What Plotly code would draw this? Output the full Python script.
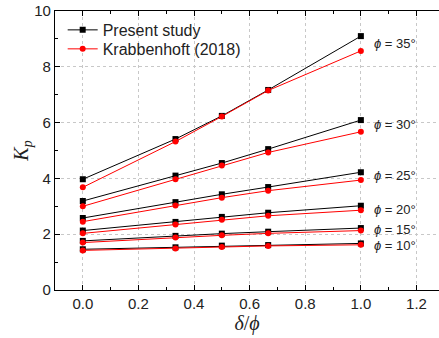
import plotly.graph_objects as go

x_vals = [0.0, 1/3, 0.5, 2/3, 1.0]
phi_labels = ["35", "30", "25", "20", "15", "10"]

present = {
    "35": [3.97, 5.41, 6.24, 7.17, 9.10],
    "30": [3.19, 4.10, 4.55, 5.05, 6.09],
    "25": [2.58, 3.15, 3.43, 3.69, 4.22],
    "20": [2.13, 2.44, 2.62, 2.77, 3.02],
    "15": [1.76, 1.94, 2.02, 2.09, 2.22],
    "10": [1.46, 1.53, 1.59, 1.61, 1.67],
}
krabbenhoft = {
    "35": [3.68, 5.32, 6.22, 7.15, 8.57],
    "30": [3.00, 3.97, 4.46, 4.93, 5.67],
    "25": [2.45, 3.03, 3.31, 3.56, 3.94],
    "20": [2.03, 2.35, 2.52, 2.66, 2.86],
    "15": [1.70, 1.88, 1.96, 2.03, 2.13],
    "10": [1.42, 1.49, 1.54, 1.58, 1.62],
}
label_y = [8.85, 5.95, 4.10, 2.90, 2.18, 1.59]

fig = go.Figure()
for i, p in enumerate(phi_labels):
    fig.add_trace(go.Scatter(
        x=x_vals, y=present[p], mode="lines+markers", name="Present study",
        legendgroup="present", showlegend=(i == 0), legend="legend",
        line=dict(color="black", width=1),
        marker=dict(symbol="square", size=6, color="black")))
for i, p in enumerate(phi_labels):
    fig.add_trace(go.Scatter(
        x=x_vals, y=krabbenhoft[p], mode="lines+markers", name="Krabbenhoft (2018)",
        legendgroup="krab", showlegend=(i == 0), legend="legend2",
        line=dict(color="red", width=1),
        marker=dict(symbol="circle", size=6, color="red")))

for p, ly in zip(phi_labels, label_y):
    fig.add_annotation(x=1.04, y=ly, xanchor="left", yanchor="middle",
                       text=f"<i>ϕ</i> = {p}°", showarrow=False,
                       font=dict(size=13, color="#222", family="Arial, Liberation Sans"))

axis_common = dict(
    showline=True, linecolor="black", linewidth=1.3,
    ticks="inside", ticklen=5, tickcolor="black", tickwidth=1,
    showgrid=True, gridcolor="#c8c8c8", griddash="dot", gridwidth=1,
    zeroline=False,
    tickfont=dict(size=15, color="#222", family="Arial, Liberation Sans"),
)

fig.update_xaxes(
    range=[-0.1, 1.281], tickvals=[0, 0.2, 0.4, 0.6, 0.8, 1.0, 1.2],
    ticktext=["0.0", "0.2", "0.4", "0.6", "0.8", "1.0", "1.2"],
    mirror="ticks",
    minor=dict(ticks="inside", ticklen=3, tickcolor="black", dtick=0.1, tick0=0, showgrid=False),
    title=dict(text="<i>δ</i>/<i>ϕ</i>", standoff=4,
               font=dict(size=20, color="#222", family="Times New Roman, Liberation Serif")),
    **axis_common)
fig.update_yaxes(
    range=[0, 10], tickvals=[0, 2, 4, 6, 8, 10],
    minor=dict(ticks="inside", ticklen=3, tickcolor="black", dtick=1, tick0=0, showgrid=False),
    title=dict(text="<i>K<sub>p</sub></i>", standoff=0,
               font=dict(size=20, color="#222", family="Times New Roman, Liberation Serif")),
    **axis_common)

legend_style = dict(x=0.02, xanchor="left", yanchor="middle",
                    bgcolor="rgba(0,0,0,0)",
                    font=dict(size=16, color="#222", family="Arial, Liberation Sans"))

fig.update_layout(
    width=439, height=338,
    margin=dict(l=55, r=0, t=11, b=48),
    paper_bgcolor="white", plot_bgcolor="white",
    legend=dict(y=0.932, **legend_style),
    legend2=dict(y=0.864, **legend_style),
)

fig.write_html("out.html", config={"displayModeBar": False},
               post_script="document.body.style.margin='0';")
